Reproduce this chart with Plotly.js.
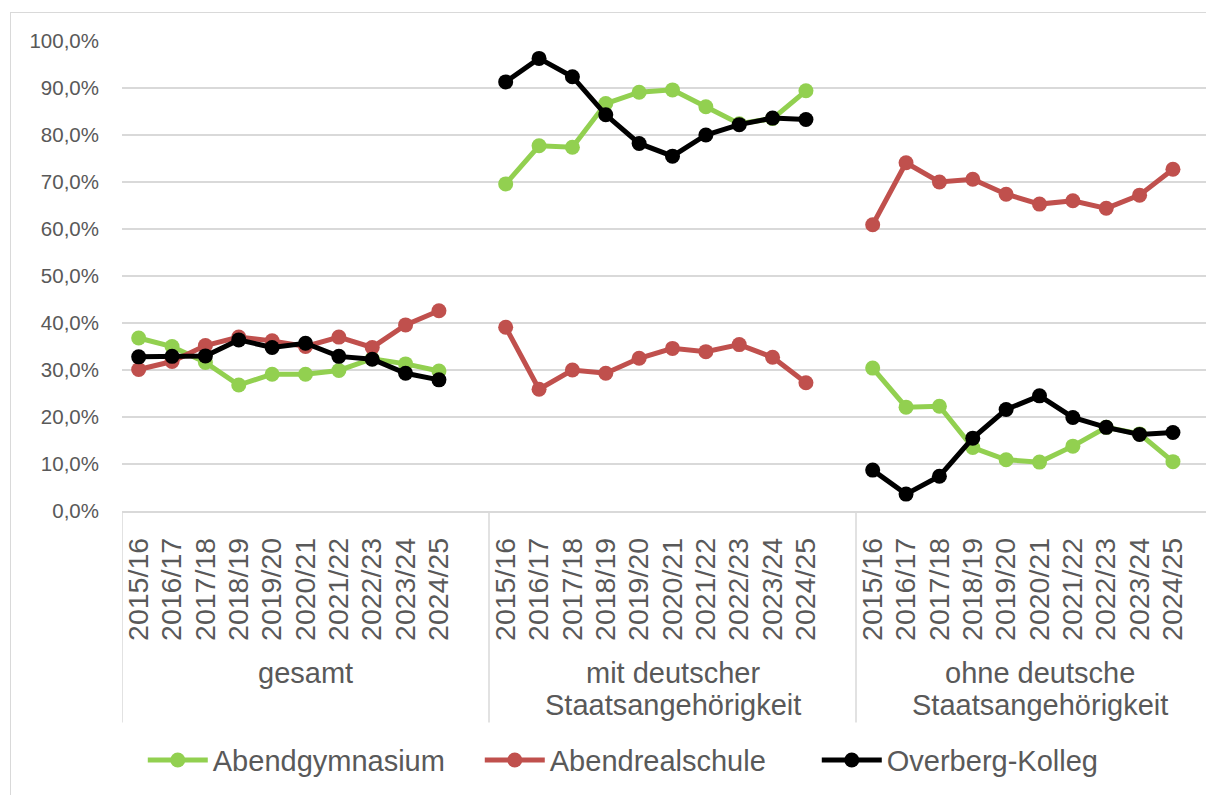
<!DOCTYPE html>
<html><head><meta charset="utf-8">
<script src="https://cdn.plot.ly/plotly-3.0.1.min.js"></script>
<style>
html,body{margin:0;padding:0;overflow:hidden;background:#fff;width:1206px;height:795px;}
#chart{position:absolute;left:0;top:0;}
#frame{position:absolute;left:10px;top:12px;width:1300px;height:900px;border:1px solid #d9d9d9;pointer-events:none;}
</style></head><body>
<div id="chart"></div><div id="frame"></div>
<script>
const years = ["2015/16","2016/17","2017/18","2018/19","2019/20","2020/21","2021/22","2022/23","2023/24","2024/25"];
const groups = ["gesamt","mit deutscher<br>Staatsangehörigkeit","ohne deutsche<br>Staatsangehörigkeit"];
const seriesNames = ["Abendgymnasium","Abendrealschule","Overberg-Kolleg"];
const seriesColors = ["#92d050","#c0504d","#000000"];
// values in % per group (gesamt, mit deutscher, ohne deutsche)
const abendgymnasium = [
  36.8, 35.0, 31.6, 26.8, 29.1, 29.1, 29.9, 32.4, 31.3, 29.8,
  69.6, 77.7, 77.4, 86.7, 89.1, 89.6, 86.0, 82.4, 83.5, 89.4,
  30.4, 22.1, 22.3, 13.5, 10.9, 10.4, 13.8, 17.8, 16.4, 10.5
];
const abendrealschule = [
  30.1, 31.8, 35.2, 37.0, 36.2, 35.0, 37.0, 34.8, 39.6, 42.6,
  39.1, 25.9, 30.0, 29.3, 32.5, 34.6, 33.9, 35.4, 32.7, 27.3,
  60.9, 74.1, 70.0, 70.6, 67.4, 65.3, 66.0, 64.4, 67.2, 72.7
];
const overbergKolleg = [
  32.8, 32.9, 33.0, 36.4, 34.8, 35.7, 32.9, 32.3, 29.3, 27.9,
  91.3, 96.3, 92.4, 84.3, 78.2, 75.5, 80.0, 82.2, 83.6, 83.3,
   8.7,  3.6,  7.4, 15.5, 21.6, 24.5, 19.9, 17.8, 16.3, 16.7
];
const allSeries = [abendgymnasium, abendrealschule, overbergKolleg];

const slots = years.length + 1; // one empty slot after each group
const FONT = "Liberation Sans, Arial, sans-serif";
const TXT = "#595959";

function buildXY(vals){
  const x=[], y=[];
  groups.forEach((g,gi)=>{
    years.forEach((yr,i)=>{ x.push(gi*slots+i); y.push(vals[gi*years.length+i]); });
    x.push(gi*slots+years.length); y.push(null);
  });
  return {x,y};
}
const traces = allSeries.map((vals,si)=>{
  const d = buildXY(vals);
  return {x:d.x, y:d.y, type:'scatter', mode:'lines+markers', name:seriesNames[si],
    connectgaps:false, line:{color:seriesColors[si], width:5},
    marker:{color:seriesColors[si], size:15}, hoverinfo:'skip'};
});

const tickvals=[], ticktext=[];
groups.forEach((g,gi)=>years.forEach((yr,i)=>{tickvals.push(gi*slots+i); ticktext.push(yr);}));

const shapes=[], annotations=[];
const totalSlots = groups.length*slots;
for(let gi=0; gi<=groups.length; gi++){
  shapes.push({type:'line', xref:'x', yref:'paper', x0:gi*slots-0.5, x1:gi*slots-0.5, y0:0, y1:-0.45,
    line:{color:'#d9d9d9', width:1.5}});
}
groups.forEach((g,gi)=>{
  const cx = gi*slots + (slots-1)/2;
  g.split('<br>').forEach((line,li)=>{
    annotations.push({xref:'x', yref:'paper', x:cx, y:-0.306 - li*0.069, yanchor:'top', xanchor:'center',
      text:line, showarrow:false, font:{family:FONT, size:29, color:TXT}});
  });
});

const layout = {
  width:1240, height:795,
  margin:{l:122, r:17, t:41, b:284, autoexpand:false},
  paper_bgcolor:'#fff', plot_bgcolor:'#fff',
  separators:',.',
  showlegend:true,
  legend:{orientation:'h', x:0.478, xanchor:'center', y:-0.53, yanchor:'middle',
    font:{family:FONT, size:29, color:TXT}, itemwidth:60, entrywidth:262, tracegroupgap:0},
  xaxis:{type:'linear', range:[-0.5, totalSlots-0.5], tickmode:'array', tickvals:tickvals, ticktext:ticktext,
    tickangle:-90, showgrid:false, zeroline:false, showline:true, linecolor:'#d9d9d9', linewidth:1.5,
    automargin:false, ticks:'', ticklabelstandoff:14, tickfont:{family:FONT, size:28.5, color:TXT}, fixedrange:true},
  yaxis:{range:[0,100], dtick:10, tickformat:'.1f', ticksuffix:'%', showgrid:true, gridcolor:'#d9d9d9',
    gridwidth:1.5, zeroline:false, showline:false, ticks:'', ticklabelstandoff:22, automargin:false,
    tickfont:{family:FONT, size:20.5, color:TXT}, fixedrange:true},
  shapes:shapes, annotations:annotations
};
Plotly.newPlot('chart', traces, layout, {staticPlot:true, displayModeBar:false});
</script></body></html>
